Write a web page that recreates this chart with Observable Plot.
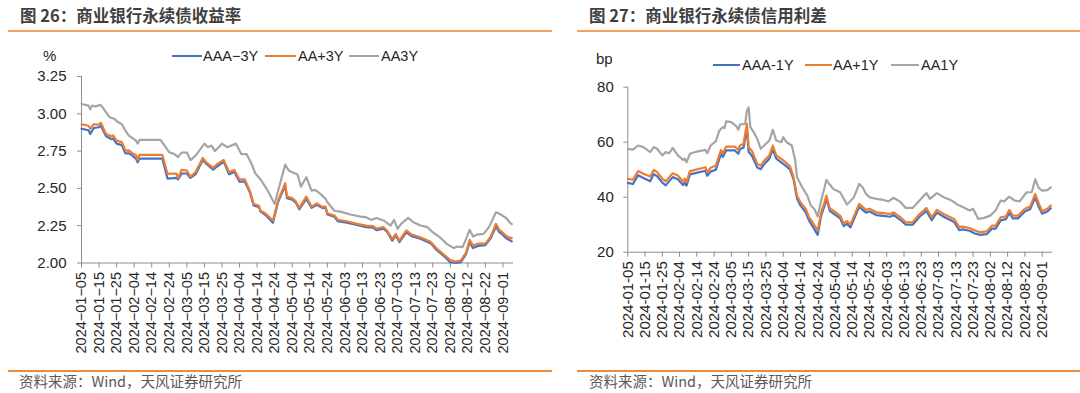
<!DOCTYPE html>
<html><head><meta charset="utf-8">
<script src="https://cdn.jsdelivr.net/npm/d3@7"></script>
<script src="https://cdn.jsdelivr.net/npm/@observablehq/plot@0.6"></script>
<style>
body{margin:0;background:#fff;width:1080px;height:393px;overflow:hidden;position:relative;font-family:"Liberation Sans",Arial,sans-serif;color:#404040}
.abs{position:absolute;white-space:nowrap}
.title{font-family:"Noto Sans CJK SC",sans-serif;font-size:16.5px;font-weight:bold;color:#3f3f3f;line-height:20px}
.src{font-family:"Noto Sans CJK SC",sans-serif;font-size:14.5px;color:#595959;line-height:18px}
.rule{position:absolute;height:2px}
.leg{position:absolute;font-size:14.5px;line-height:18px;color:#262626}
.sw{position:absolute;height:2.5px}
.unit{position:absolute;font-size:15px;line-height:18px;color:#262626}
#c1,#c2{position:absolute;top:40px}
#c1{left:0}#c2{left:540px}
</style></head><body>
<script>
// ---------- Figure 26: yields (%) ----------
const leftSeriesNames = ["AAA−3Y", "AA+3Y", "AA3Y"];
const leftXTicks = ["2024-01-05","2024-01-15","2024-01-25","2024-02-04","2024-02-14","2024-02-24","2024-03-05","2024-03-15","2024-03-25","2024-04-04","2024-04-14","2024-04-24","2024-05-04","2024-05-14","2024-05-24","2024-06-03","2024-06-13","2024-06-23","2024-07-03","2024-07-13","2024-07-23","2024-08-02","2024-08-12","2024-08-22","2024-09-01"];
const leftYTicks = [2.00, 2.25, 2.50, 2.75, 3.00, 3.25];
const leftDates = ["2024-01-05","2024-01-09","2024-01-10","2024-01-12","2024-01-15","2024-01-16","2024-01-19","2024-01-22","2024-01-23","2024-01-25","2024-01-28","2024-01-30","2024-02-01","2024-02-03","2024-02-05","2024-02-06","2024-02-07","2024-02-20","2024-02-23","2024-02-28","2024-02-29","2024-03-02","2024-03-05","2024-03-07","2024-03-10","2024-03-14","2024-03-16","2024-03-20","2024-03-22","2024-03-26","2024-03-29","2024-04-01","2024-04-04","2024-04-07","2024-04-10","2024-04-12","2024-04-15","2024-04-16","2024-04-19","2024-04-23","2024-04-26","2024-04-30","2024-05-01","2024-05-04","2024-05-06","2024-05-08","2024-05-12","2024-05-15","2024-05-18","2024-05-21","2024-05-23","2024-05-24","2024-05-28","2024-05-30","2024-06-04","2024-06-10","2024-06-15","2024-06-19","2024-06-21","2024-06-25","2024-06-27","2024-06-30","2024-07-02","2024-07-04","2024-07-08","2024-07-11","2024-07-16","2024-07-22","2024-07-25","2024-07-29","2024-08-02","2024-08-05","2024-08-08","2024-08-11","2024-08-13","2024-08-15","2024-08-18","2024-08-22","2024-08-25","2024-08-28","2024-08-30","2024-08-31","2024-09-03","2024-09-06"];
const leftAAA3Y = [2.90,2.89,2.865,2.905,2.91,2.92,2.85,2.83,2.835,2.80,2.79,2.735,2.735,2.72,2.70,2.675,2.70,2.70,2.565,2.57,2.56,2.60,2.60,2.57,2.595,2.69,2.665,2.625,2.645,2.68,2.595,2.61,2.545,2.545,2.47,2.385,2.375,2.345,2.32,2.27,2.41,2.52,2.435,2.425,2.405,2.36,2.43,2.37,2.39,2.37,2.37,2.325,2.31,2.28,2.27,2.255,2.24,2.237,2.22,2.23,2.21,2.15,2.185,2.14,2.205,2.18,2.163,2.13,2.09,2.05,2.005,2.00,2.005,2.06,2.14,2.10,2.115,2.12,2.165,2.245,2.205,2.20,2.165,2.145];
const leftAAp3Y = [2.93,2.92,2.90,2.93,2.927,2.94,2.865,2.85,2.855,2.82,2.81,2.753,2.755,2.735,2.725,2.69,2.725,2.725,2.597,2.60,2.57,2.624,2.62,2.58,2.61,2.704,2.675,2.637,2.66,2.69,2.61,2.624,2.56,2.56,2.48,2.396,2.385,2.35,2.33,2.285,2.42,2.535,2.445,2.435,2.414,2.37,2.445,2.378,2.40,2.378,2.378,2.334,2.318,2.29,2.28,2.262,2.25,2.247,2.23,2.24,2.218,2.162,2.195,2.15,2.218,2.19,2.173,2.14,2.10,2.06,2.02,2.01,2.017,2.07,2.155,2.117,2.13,2.13,2.177,2.262,2.22,2.213,2.18,2.165];
const leftAADates = ["2024-01-05","2024-01-09","2024-01-10","2024-01-11","2024-01-13","2024-01-16","2024-01-19","2024-01-21","2024-01-24","2024-01-25","2024-01-28","2024-01-30","2024-02-01","2024-02-05","2024-02-06","2024-02-07","2024-02-19","2024-02-24","2024-02-27","2024-02-29","2024-03-02","2024-03-05","2024-03-07","2024-03-10","2024-03-15","2024-03-17","2024-03-19","2024-03-21","2024-03-25","2024-03-28","2024-04-02","2024-04-05","2024-04-08","2024-04-11","2024-04-13","2024-04-16","2024-04-20","2024-04-24","2024-04-27","2024-04-30","2024-05-02","2024-05-04","2024-05-07","2024-05-09","2024-05-12","2024-05-15","2024-05-17","2024-05-20","2024-05-23","2024-05-24","2024-05-28","2024-06-01","2024-06-06","2024-06-12","2024-06-15","2024-06-18","2024-06-21","2024-06-25","2024-06-29","2024-07-01","2024-07-03","2024-07-05","2024-07-09","2024-07-12","2024-07-16","2024-07-20","2024-07-23","2024-07-27","2024-07-31","2024-08-04","2024-08-06","2024-08-09","2024-08-11","2024-08-13","2024-08-15","2024-08-17","2024-08-21","2024-08-24","2024-08-26","2024-08-28","2024-08-30","2024-09-03","2024-09-05","2024-09-06"];
const leftAA3Y = [3.066,3.055,3.03,3.055,3.05,3.06,3.01,2.977,2.965,2.95,2.93,2.887,2.854,2.82,2.80,2.825,2.825,2.742,2.73,2.71,2.74,2.74,2.69,2.72,2.80,2.776,2.787,2.75,2.80,2.776,2.80,2.73,2.73,2.66,2.60,2.56,2.486,2.396,2.53,2.66,2.62,2.608,2.593,2.512,2.575,2.485,2.49,2.463,2.43,2.407,2.35,2.343,2.325,2.311,2.307,2.289,2.302,2.285,2.251,2.289,2.229,2.262,2.302,2.273,2.251,2.24,2.206,2.173,2.128,2.10,2.11,2.106,2.162,2.222,2.177,2.19,2.195,2.24,2.289,2.34,2.33,2.30,2.27,2.26];

// ---------- Figure 27: credit spreads (bp) ----------
const rightSeriesNames = ["AAA-1Y", "AA+1Y", "AA1Y"];
const rightXTicks = ["2024-01-05","2024-01-15","2024-01-25","2024-02-04","2024-02-14","2024-02-24","2024-03-05","2024-03-15","2024-03-25","2024-04-04","2024-04-14","2024-04-24","2024-05-04","2024-05-14","2024-05-24","2024-06-03","2024-06-13","2024-06-23","2024-07-03","2024-07-13","2024-07-23","2024-08-02","2024-08-12","2024-08-22","2024-09-01"];
const rightYTicks = [20, 40, 60, 80];
const rightDates = ["2024-01-05","2024-01-08","2024-01-11","2024-01-14","2024-01-18","2024-01-20","2024-01-22","2024-01-25","2024-01-27","2024-01-31","2024-02-03","2024-02-06","2024-02-07","2024-02-08","2024-02-10","2024-02-19","2024-02-20","2024-02-22","2024-02-25","2024-02-28","2024-02-29","2024-03-02","2024-03-07","2024-03-09","2024-03-10","2024-03-12","2024-03-14","2024-03-15","2024-03-17","2024-03-20","2024-03-22","2024-03-24","2024-03-27","2024-03-29","2024-03-31","2024-04-03","2024-04-06","2024-04-08","2024-04-10","2024-04-12","2024-04-14","2024-04-17","2024-04-19","2024-04-21","2024-04-24","2024-04-26","2024-04-28","2024-04-29","2024-05-01","2024-05-07","2024-05-09","2024-05-11","2024-05-13","2024-05-18","2024-05-22","2024-05-24","2024-05-28","2024-06-01","2024-06-05","2024-06-07","2024-06-11","2024-06-14","2024-06-18","2024-06-22","2024-06-26","2024-06-29","2024-07-02","2024-07-06","2024-07-12","2024-07-15","2024-07-17","2024-07-21","2024-07-24","2024-07-27","2024-07-31","2024-08-03","2024-08-05","2024-08-08","2024-08-11","2024-08-13","2024-08-15","2024-08-18","2024-08-22","2024-08-25","2024-08-28","2024-08-30","2024-09-01","2024-09-04","2024-09-06"];
const rightAAA1Y = [45.2,44.8,48.0,47.0,45.8,48.4,47.6,45.3,44.3,47.3,46.5,44.4,45.3,44.2,48.3,49.6,47.8,49.3,50.0,55.8,54.6,57.0,57.0,55.8,57.5,58.0,64.8,56.5,55.0,50.8,50.2,52.0,54.0,57.5,54.0,52.6,51.2,50.0,46.5,39.5,37.0,34.5,31.5,29.5,26.3,33.3,37.0,39.6,35.0,32.3,29.5,30.3,29.0,36.5,34.4,34.8,33.5,33.2,32.9,33.5,31.7,30.0,30.0,32.9,35.0,31.6,34.4,32.9,31.0,28.0,28.3,27.8,26.8,26.3,26.6,28.6,28.6,31.6,32.0,34.3,32.3,32.3,34.8,35.6,40.0,36.5,34.0,34.8,36.0];
const rightAAp1Y = [46.7,46.3,49.5,48.5,47.5,49.9,49.1,46.7,45.8,48.7,47.9,45.7,46.7,45.5,49.5,50.9,49.1,50.7,51.5,57.2,56.0,58.4,58.4,57.2,58.8,59.4,66.7,58.2,56.7,52.1,51.5,53.3,55.2,58.8,55.2,53.9,52.4,51.2,47.3,40.6,38.2,35.8,32.7,30.9,27.9,34.5,38.2,40.6,36.0,33.3,30.5,31.3,30.1,37.6,35.4,35.8,34.5,34.2,33.9,34.5,32.7,30.9,30.9,33.9,36.1,32.7,35.4,33.9,32.1,29.1,29.3,28.8,27.9,27.3,27.6,29.7,29.7,32.7,33.0,35.4,33.3,33.3,35.8,36.6,41.2,37.8,34.9,35.8,37.0];
const rightAADates = ["2024-01-05","2024-01-08","2024-01-11","2024-01-14","2024-01-18","2024-01-20","2024-01-22","2024-01-25","2024-01-27","2024-01-29","2024-01-31","2024-02-03","2024-02-06","2024-02-07","2024-02-08","2024-02-10","2024-02-14","2024-02-19","2024-02-20","2024-02-22","2024-02-25","2024-02-27","2024-02-29","2024-03-01","2024-03-02","2024-03-05","2024-03-08","2024-03-09","2024-03-10","2024-03-13","2024-03-14","2024-03-15","2024-03-16","2024-03-18","2024-03-20","2024-03-22","2024-03-24","2024-03-27","2024-03-29","2024-03-31","2024-04-03","2024-04-04","2024-04-06","2024-04-09","2024-04-11","2024-04-12","2024-04-15","2024-04-18","2024-04-20","2024-04-22","2024-04-24","2024-04-26","2024-04-28","2024-04-29","2024-05-01","2024-05-03","2024-05-07","2024-05-11","2024-05-15","2024-05-18","2024-05-20","2024-05-22","2024-05-24","2024-05-28","2024-06-01","2024-06-04","2024-06-07","2024-06-11","2024-06-14","2024-06-18","2024-06-22","2024-06-26","2024-06-28","2024-07-02","2024-07-06","2024-07-10","2024-07-14","2024-07-17","2024-07-21","2024-07-23","2024-07-26","2024-07-29","2024-08-02","2024-08-05","2024-08-08","2024-08-10","2024-08-13","2024-08-16","2024-08-19","2024-08-23","2024-08-26","2024-08-28","2024-08-30","2024-09-01","2024-09-04","2024-09-06"];
const rightAA1Y = [57.6,57.3,58.8,58.2,56.4,58.2,57.6,55.2,56.4,56.0,57.9,55.2,53.6,54.0,52.7,55.8,56.6,57.2,56.0,58.8,60.4,64.2,65.5,65.1,67.6,67.3,65.7,64.5,66.4,66.7,71.5,72.7,65.5,63.6,61.2,57.6,58.8,60.6,64.5,60.6,60.0,61.8,60.0,58.8,53.3,47.3,43.6,40.6,37.0,35.8,33.0,38.8,43.6,46.3,44.6,43.0,41.8,37.3,40.0,44.8,43.6,41.2,40.0,39.4,39.0,38.5,39.8,38.2,36.1,36.1,38.8,41.5,39.4,41.5,40.0,39.0,37.3,36.4,35.2,35.8,32.1,32.4,33.3,35.2,38.8,38.5,40.2,38.8,38.5,41.8,41.8,46.5,43.4,42.4,42.6,43.6];

const colors = ["#4472C4", "#ED7D31", "#A5A5A5"];
const axisGray = "#8c8c8c";

function rows(dates, vals, s) { return dates.map((d, i) => ({date: new Date(d), value: vals[i], s})); }

function makeChart(o) {
  const lines = o.series.map((s, i) => Plot.line(rows(s.dates, s.values, i), {x: "date", y: "value", stroke: colors[i], strokeWidth: 2.2, strokeLinejoin: "round"}));
  return Plot.plot({
    width: 540, height: 353,
    marginLeft: o.ml, marginRight: 540 - o.xEnd, marginTop: o.mt, marginBottom: 353 - o.yBottom,
    style: {fontFamily: "'Liberation Sans', Arial, sans-serif", fontSize: "15px", color: "#262626", background: "transparent"},
    x: {type: "utc", domain: [new Date("2024-01-05"), new Date("2024-09-07")]},
    y: {domain: o.yDomain},
    marks: [
      Plot.axisY({ticks: o.yTicks, tickFormat: o.yFmt, tickSize: 4, tickPadding: o.yPad, stroke: axisGray, fill: "#262626", fontSize: 15, label: null}),
      Plot.axisX({ticks: o.xTicks.map(d => new Date(d)), tickFormat: o.xFmt, tickRotate: -90, tickSize: 5, tickPadding: 4, stroke: axisGray, fill: "#262626", fontSize: o.xFont, label: null}),
      Plot.ruleX([new Date("2024-01-05")], {stroke: axisGray, strokeWidth: 1}),
      Plot.ruleY([o.yDomain[0]], {stroke: axisGray, strokeWidth: 1}),
      ...lines
    ]
  });
}

const c1 = makeChart({
  ml: 81, xEnd: 513, mt: 36, yBottom: 222.5, yDomain: [2, 3.25], yTicks: leftYTicks,
  yFmt: d => d.toFixed(2), yPad: 11, xTicks: leftXTicks, xFont: 14.5,
  xFmt: d => d3.utcFormat("%Y-%m-%d")(d).replace(/-/g, "−"),
  series: [{dates: leftDates, values: leftAAA3Y}, {dates: leftDates, values: leftAAp3Y}, {dates: leftAADates, values: leftAA3Y}]
});
c1.id = "c1";
const c2 = makeChart({
  ml: 87.3, xEnd: 512, mt: 46.7, yBottom: 211.7, yDomain: [20, 80], yTicks: rightYTicks,
  yFmt: d => String(d), yPad: 10, xTicks: rightXTicks, xFont: 15,
  xFmt: d => d3.utcFormat("%Y-%m-%d")(d),
  series: [{dates: rightDates, values: rightAAA1Y}, {dates: rightDates, values: rightAAp1Y}, {dates: rightAADates, values: rightAA1Y}]
});
c2.id = "c2";
document.body.appendChild(c1);
document.body.appendChild(c2);

function el(cls, text, style) {
  const d = document.createElement("div");
  d.className = cls; if (text) d.textContent = text;
  Object.assign(d.style, style); document.body.appendChild(d); return d;
}
// titles and rules
el("abs title", "图 26：商业银行永续债收益率", {left: "20px", top: "5px"});
el("abs title", "图 27：商业银行永续债信用利差", {left: "589px", top: "5px"});
el("rule", "", {left: "8px", width: "544px", top: "29.5px", background: "#F6A35E"});
el("rule", "", {left: "577px", width: "503px", top: "29.5px", background: "#F6A35E"});
el("rule", "", {left: "8px", width: "544px", top: "370px", background: "#EF8A3A"});
el("rule", "", {left: "577px", width: "503px", top: "370px", background: "#EF8A3A"});
el("abs src", "资料来源：Wind，天风证券研究所", {left: "19px", top: "372px"});
el("abs src", "资料来源：Wind，天风证券研究所", {left: "589px", top: "372px"});
// units
el("unit", "%", {left: "43px", top: "47px"});
el("unit", "bp", {left: "596px", top: "50px"});
// legends
function legend(items, y) {
  items.forEach((it, i) => {
    el("sw", "", {left: it.x0 + "px", width: (it.x1 - it.x0) + "px", top: (y - 1.25) + "px", background: colors[i]});
    el("leg", it.name, {left: it.tx + "px", top: (y - 9) + "px"});
  });
}
legend([{x0: 172, x1: 202, tx: 203, name: leftSeriesNames[0]}, {x0: 265, x1: 296, tx: 298, name: leftSeriesNames[1]}, {x0: 349, x1: 379, tx: 381, name: leftSeriesNames[2]}], 56);
legend([{x0: 713, x1: 740, tx: 742, name: rightSeriesNames[0]}, {x0: 805, x1: 832, tx: 833, name: rightSeriesNames[1]}, {x0: 891, x1: 919, tx: 921, name: rightSeriesNames[2]}], 65);
</script>
</body></html>
